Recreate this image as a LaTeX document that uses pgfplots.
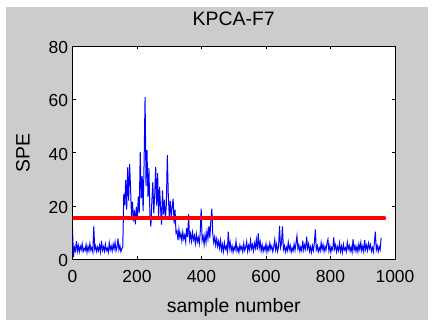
\documentclass[border=0pt]{standalone}
\usepackage{pgfplots}
\pgfplotsset{compat=1.18}
\usepackage{fontspec}
\setmainfont{Liberation Sans}
\definecolor{figgray}{RGB}{204,204,204}
\begin{document}
\begin{tikzpicture}[x=1bp,y=1bp]
\useasboundingbox (0,0) rectangle (432,321);
\fill[figgray] (6,1) rectangle (428,314);
\begin{axis}[
  at={(72.5bp,61.7bp)}, anchor=south west,
  width=322.5bp, height=213.3bp, scale only axis,
  xmin=0, xmax=1000, ymin=0, ymax=80,
  xtick={0,200,...,1000}, ytick={0,20,...,80},
  tick align=inside, xtick pos=both, ytick pos=both,
  major tick length=3.5bp,
  axis background/.style={fill=white},
  axis line style={black, line width=0.8bp},
  every tick/.style={black, line width=0.6bp},
  /pgf/number format/assume math mode=true,
  /pgf/number format/1000 sep={},
  ticklabel style={font=\fontsize{17.5}{20}\selectfont},
  xticklabel style={yshift=-8bp},
  yticklabel style={xshift=-1bp, yshift=-1.5bp},
  title={KPCA-F7},
  title style={font=\fontsize{19.5}{22}\selectfont, at={(axis description cs:0.5,1.066)}, anchor=base},
  xlabel={sample number},
  xlabel style={font=\fontsize{19.5}{22}\selectfont, at={(axis description cs:0.5,-0.2517)}, anchor=base},
  ylabel={SPE},
  ylabel style={font=\fontsize{19.5}{22}\selectfont, at={(axis description cs:-0.1535,0.5)}, anchor=center},
]
\addplot[color={rgb,255:red,0;green,0;blue,255}, line width=1bp] coordinates {
(0,11.6) (3,0.8) (6,4.5) (9,3.2) (12,6.8) (15,3.0) (18,5.2) (21,2.8) (24,4.9) (27,3.5)
(30,5.8) (33,2.9) (36,4.1) (39,3.3) (42,5.5) (45,2.6) (48,4.8) (51,3.1) (54,5.9) (57,3.4)
(60,4.4) (63,2.7) (66,12.3) (69,3.6) (72,5.0) (75,2.9) (78,4.6) (81,3.2) (84,5.3) (87,2.8)
(90,6.9) (93,3.4) (96,4.7) (99,3.0) (102,5.6) (105,3.3) (108,4.2) (111,2.6) (114,6.2) (117,3.5)
(120,4.9) (123,3.1) (126,5.7) (129,3.8) (132,6.4) (135,3.2) (138,4.5) (141,7.8) (144,3.6) (147,5.1)
(150,2.9) (153,4.0)
(156,4.8) (159,24.5) (162,20.2) (165,29.8) (168,18.6) (171,34.5) (174,22.0) (177,35.8) (180,26.8) (183,16.3)
(186,21.5) (189,14.2) (192,18.4) (195,13.1) (198,19.7) (201,14.8) (204,23.6) (207,17.5) (210,40.3) (213,22.8)
(216,31.2) (219,18.1) (222,36.4) (225,60.8) (228,27.5) (231,40.9) (234,23.4) (237,34.2) (240,16.8) (243,12.3)
(246,21.7) (249,28.9) (252,17.2) (255,24.6) (258,34.6) (261,20.1) (264,32.3) (267,15.4) (270,27.2) (273,19.3)
(276,13.0) (279,25.8) (282,16.9) (285,22.4) (288,14.7) (291,20.6) (294,39.1) (297,24.2) (300,16.1) (303,21.9)
(306,15.6) (309,19.8) (312,22.7) (315,13.4) (318,18.6) (321,9.8)
(324,10.6) (327,7.2) (330,11.3) (333,8.1) (336,9.7) (339,6.9) (342,10.2) (345,7.6) (348,9.1) (351,6.5)
(354,11.8) (357,8.3) (360,16.9) (363,7.4) (366,9.6) (369,6.8) (372,10.1) (375,7.3) (378,8.9) (381,5.9)
(384,9.4) (387,6.6) (390,8.2) (393,5.8) (396,9.9) (399,19.0) (402,7.1) (405,8.7) (408,5.5) (411,9.2)
(414,6.3) (417,10.5) (420,7.7) (423,12.4) (426,8.0) (429,14.6) (432,19.0) (435,9.3) (438,6.2) (441,8.4)
(444,5.3) (447,7.6) (450,4.9) (453,6.8) (456,4.2) (459,7.1)
(462,3.4) (465,5.6) (468,3.0) (471,6.2) (474,3.8) (477,4.9) (480,2.9) (483,10.4) (486,4.1) (489,6.3)
(492,3.2) (495,5.0) (498,2.7) (501,4.6) (504,3.5) (507,6.8) (510,3.1) (513,4.4) (516,2.6) (519,5.3)
(522,3.7) (525,4.8) (528,2.8) (531,5.9) (534,3.3) (537,4.5) (540,6.6) (543,3.0) (546,5.2) (549,3.6)
(552,7.1) (555,4.0) (558,5.5) (561,3.1) (564,6.0) (567,4.2) (570,7.4) (573,3.6) (576,9.7) (579,4.3)
(582,6.5) (585,3.2) (588,5.4) (591,2.9) (594,4.7) (597,3.4) (600,5.8) (603,2.7) (606,4.9) (609,3.3)
(612,6.1) (615,3.8) (618,5.0) (621,2.9) (624,4.6) (627,7.3) (630,3.5) (633,5.6) (636,3.0) (639,4.8)
(642,12.5) (645,4.4) (648,5.9) (651,12.3) (654,3.7) (657,5.1) (660,2.8) (663,4.5) (666,3.2) (669,6.4)
(672,3.6) (675,5.2) (678,2.7) (681,4.3) (684,3.1) (687,5.7) (690,3.4) (693,6.0) (696,8.8) (699,3.9)
(702,5.3) (705,2.9) (708,4.6) (711,3.2) (714,7.0) (717,3.5) (720,5.4) (723,3.8) (726,8.5) (729,4.1)
(732,5.8) (735,3.0) (738,4.7) (741,2.6) (744,5.1) (747,3.3) (750,6.2) (753,11.2) (756,3.6) (759,5.0)
(762,2.8) (765,4.4) (768,3.1) (771,6.3) (774,3.7) (777,5.5) (780,2.9) (783,4.8) (786,3.4) (789,5.9)
(792,7.5) (795,3.2) (798,5.1) (801,2.7) (804,4.5) (807,3.6) (810,8.2) (813,3.9) (816,5.4) (819,2.8)
(822,4.7) (825,3.3) (828,6.1) (831,3.0) (834,4.9) (837,2.6) (840,5.6) (843,3.5) (846,4.3) (849,2.9)
(852,6.4) (855,3.8) (858,5.2) (861,3.1) (864,4.6) (867,2.7) (870,7.6) (873,3.4) (876,5.0) (879,3.0)
(882,4.8) (885,2.8) (888,5.7) (891,3.6) (894,6.3) (897,3.2) (900,4.9) (903,2.9) (906,7.2) (909,3.7)
(912,5.3) (915,3.3) (918,6.0) (921,4.1) (924,5.5) (927,3.0) (930,4.4) (933,2.8) (936,6.2) (939,10.4)
(942,3.5) (945,5.1) (948,2.9) (951,4.7) (954,3.6) (957,8.0)
};
\addplot[color={rgb,255:red,255;green,0;blue,0}, line width=4.5bp, line cap=round] coordinates {(1,15.4) (966,15.4)};
\end{axis}
\end{tikzpicture}
\end{document}
